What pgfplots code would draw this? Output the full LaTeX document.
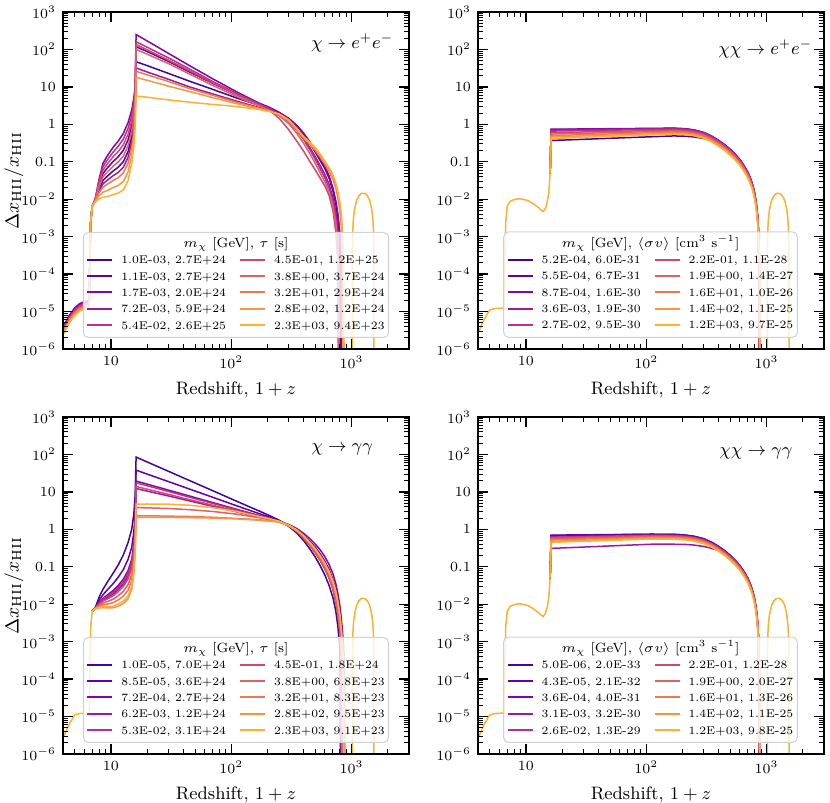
\RequirePackage{fix-cm}
\documentclass[border=0pt]{standalone}
\usepackage{pgfplots}
\usepackage{pgfplotstable}
\pgfplotsset{compat=1.18}

\definecolor{c1}{HTML}{41049D}
\definecolor{c2}{HTML}{6401A6}
\definecolor{c3}{HTML}{8205A7}
\definecolor{c4}{HTML}{9E199C}
\definecolor{c5}{HTML}{B8318A}
\definecolor{c6}{HTML}{CD4877}
\definecolor{c7}{HTML}{DE6165}
\definecolor{c8}{HTML}{EC7853}
\definecolor{c9}{HTML}{F89540}
\definecolor{c10}{HTML}{FDB031}

% ---------- top-left: chi -> e+e-
\pgfplotstableread{
x c1 c2 c3 c4 c5 c6 c7 c8 c9 c10
4.0 3.6e-6 3.6e-6 3.8e-6 3.3e-6 3.3e-6 3.0e-6 2.9e-6 2.75e-6 2.55e-6 2.4e-6
4.5 7.5e-6 7.5e-6 7.8e-6 6.9e-6 6.9e-6 6.3e-6 6.0e-6 5.7e-6 5.3e-6 4.9e-6
5.0 1.19e-5 1.19e-5 1.24e-5 1.09e-5 1.09e-5 1.0e-5 9.5e-6 9.0e-6 8.4e-6 7.8e-6
5.5 1.56e-5 1.56e-5 1.63e-5 1.44e-5 1.44e-5 1.31e-5 1.25e-5 1.19e-5 1.1e-5 1.03e-5
6.0 1.75e-5 1.75e-5 1.82e-5 1.61e-5 1.61e-5 1.47e-5 1.4e-5 1.33e-5 1.23e-5 1.15e-5
6.6 1.88e-5 1.88e-5 1.95e-5 1.73e-5 1.73e-5 1.58e-5 1.5e-5 1.43e-5 1.32e-5 1.23e-5
6.7 3e-4 3e-4 3e-4 3e-4 3e-4 3e-4 3e-4 3e-4 3e-4 3e-4
6.8 2.5e-3 2.5e-3 2.5e-3 2.5e-3 2.5e-3 2.5e-3 2.5e-3 2.5e-3 2.5e-3 2.5e-3
7.0 6.5e-3 6.5e-3 6.5e-3 6.5e-3 6.5e-3 6.5e-3 6.5e-3 6.5e-3 6.5e-3 6.5e-3
7.4 0.0091 0.0095 0.0100 0.0090 0.0098 0.0096 0.0093 0.0088 0.0086 0.0083
8.0 0.0193 0.0246 0.0355 0.0171 0.0314 0.0278 0.0218 0.0151 0.0126 0.0105
8.6 0.0320 0.0486 0.0912 0.0259 0.0740 0.0600 0.0394 0.0210 0.0153 0.0112
9.3 0.0407 0.0670 0.141 0.0318 0.110 0.0859 0.0522 0.0248 0.0171 0.0117
10.4 0.0562 0.1005 0.240 0.0421 0.179 0.134 0.0752 0.0315 0.0204 0.0132
11.5 0.0716 0.136 0.355 0.0520 0.258 0.187 0.0986 0.0378 0.0233 0.0145
12.7 0.101 0.203 0.575 0.0714 0.406 0.287 0.143 0.0505 0.0299 0.0178
13.9 0.188 0.385 1.12 0.132 0.785 0.550 0.269 0.0923 0.0540 0.0316
14.9 0.468 0.90 2.40 0.337 1.73 1.25 0.649 0.243 0.149 0.0912
15.5 1.12 2.04 5.01 0.832 3.72 2.75 1.51 0.617 0.394 0.251
15.9 2.82 4.68 10.0 2.19 7.76 6.03 3.63 1.70 1.16 0.794
16.2 47 118 250 32 160 135 100 26 18 5.7
20 37 88 169 25 115 98 75 21 15 5.3
30 23 48 79 16 60 52 42 14 10.5 4.5
45 14.2 25 37 10 30 27 22 9 7.5 3.9
70 8.6 12.5 16.5 6.5 14 13 11 6 5.2 3.4
110 5.1 6.3 7.5 4.2 6.8 6.3 5.6 3.9 3.6 3.0
170 3.2 3.4 3.7 2.8 3.5 3.3 3.1 2.7 2.6 2.5
210 2.55 2.65 2.8 2.3 2.6 2.3 2.3 2.2 2.2 2.2
250 2.0 2.05 2.1 1.85 1.9 1.45 1.7 1.8 1.85 1.9
300 1.36 1.4 1.45 1.2 1.2 0.72 1.05 1.22 1.28 1.33
350 0.87 0.9 0.95 0.72 0.7 0.36 0.58 0.72 0.76 0.79
400 0.53 0.55 0.58 0.42 0.39 0.19 0.31 0.42 0.45 0.47
450 0.31 0.32 0.34 0.24 0.21 0.102 0.165 0.29 0.31 0.33
500 0.18 0.19 0.2 0.135 0.115 0.06 0.09 0.2 0.22 0.24
550 0.107 0.113 0.12 0.078 0.064 0.036 0.05 0.13 0.145 0.16
600 0.066 0.07 0.075 0.046 0.037 0.0225 0.029 0.085 0.095 0.105
650 0.037 0.039 0.042 0.025 0.02 0.0126 0.016 0.055 0.062 0.07
700 0.017 0.018 0.02 0.011 0.0085 0.005 0.0068 0.034 0.039 0.045
740 0.0075 0.008 0.009 0.0045 0.003 0.00135 0.0024 0.02 0.023 0.027
770 0.0032 0.0035 0.004 0.0015 8e-4 2e-4 6e-4 0.011 0.0135 0.016
800 8e-4 0.001 0.0012 1e-12 1e-12 1e-12 1e-12 0.005 0.0065 0.008
820 1e-12 1.5e-4 2e-4 1e-12 1e-12 1e-12 1e-12 0.0022 0.0032 0.0042
840 1e-12 1e-12 1e-12 1e-12 1e-12 1e-12 1e-12 5e-4 0.001 0.0015
860 1e-12 1e-12 1e-12 1e-12 1e-12 1e-12 1e-12 1e-12 1e-12 2e-4
880 1e-12 1e-12 1e-12 1e-12 1e-12 1e-12 1e-12 1e-12 1e-12 1e-12
}\tA

% ---------- right panels: common part before the jump
\pgfplotstableread{
x y
4.0 2.6e-6
4.5 6.2e-6
5.0 1.1e-5
5.5 1.2e-5
6.0 1.22e-5
6.6 1.25e-5
6.7 3e-4
6.8 2.5e-3
7.0 6.5e-3
7.4 8.8e-3
8.0 9.8e-3
8.6 0.0102
9.3 0.0101
10.4 9.2e-3
11.5 7.6e-3
12.7 6.0e-3
13.3 5.2e-3
13.9 4.7e-3
14.5 5.6e-3
15.0 8.0e-3
15.5 0.015
15.9 0.05
}\tRpre

% ---------- bottom-left: common part before 7
\pgfplotstableread{
x y
4.0 2.7e-6
4.5 6.2e-6
5.0 1.1e-5
5.5 1.2e-5
6.0 1.22e-5
6.6 1.25e-5
6.7 3e-4
6.8 2.5e-3
7.0 6.5e-3
}\tLpre

% ---------- recombination bump (all panels)
\pgfplotstableread{
x y
1012 1e-12
1014 1.45e-4
1017 5.7e-4
1023 1.42e-3
1034 2.76e-3
1056 5.2e-3
1101 9.3e-3
1148 0.0122
1196 0.0139
1247 0.0145
1301 0.0139
1356 0.0122
1414 9.3e-3
1474 5.2e-3
1505 2.76e-3
1521 1.42e-3
1530 5.7e-4
1535 1.45e-4
1538 1e-12
}\tBump

% ---------- top-right: chi chi -> e+e-
\pgfplotstableread{
x c1 c2 c3 c4 c5 c6 c7 c8 c9 c10
15.9 0.05 0.05 0.05 0.05 0.05 0.05 0.05 0.05 0.05 0.05
16.2 0.37 0.72 0.74 0.70 0.66 0.60 0.55 0.50 0.46 0.42
20 0.379 0.725 0.744 0.706 0.667 0.608 0.559 0.510 0.470 0.430
30 0.398 0.735 0.753 0.717 0.680 0.625 0.577 0.529 0.489 0.451
45 0.418 0.745 0.762 0.729 0.694 0.642 0.595 0.549 0.509 0.472
70 0.441 0.757 0.771 0.742 0.709 0.660 0.616 0.572 0.531 0.497
110 0.465 0.768 0.780 0.755 0.725 0.680 0.638 0.596 0.556 0.523
170 0.49 0.78 0.79 0.77 0.74 0.70 0.66 0.62 0.58 0.55
210 0.48 0.757 0.766 0.747 0.718 0.679 0.640 0.601 0.563 0.534
250 0.46 0.702 0.711 0.693 0.666 0.63 0.594 0.558 0.522 0.495
300 0.42 0.601 0.608 0.593 0.57 0.539 0.508 0.477 0.447 0.424
350 0.36 0.48 0.486 0.474 0.455 0.4305 0.406 0.381 0.357 0.338
400 0.295 0.367 0.371 0.362 0.348 0.329 0.31 0.291 0.273 0.2585
450 0.235 0.281 0.284 0.277 0.266 0.252 0.238 0.223 0.209 0.198
500 0.183 0.211 0.213 0.208 0.2 0.189 0.178 0.167 0.157 0.1485
550 0.14 0.156 0.158 0.154 0.148 0.14 0.132 0.124 0.116 0.11
600 0.103 0.113 0.115 0.112 0.107 0.1015 0.0957 0.0899 0.0841 0.0798
650 0.072 0.078 0.079 0.077 0.074 0.07 0.066 0.062 0.058 0.055
700 0.048 0.0515 0.0521 0.0508 0.0488 0.0462 0.0436 0.0409 0.0383 0.0363
740 0.031 0.0335 0.034 0.0331 0.0318 0.0301 0.0284 0.0267 0.0249 0.0237
770 0.021 0.0226 0.0229 0.0223 0.0215 0.0203 0.0191 0.018 0.0168 0.016
800 0.0123 0.0133 0.0134 0.0131 0.0126 0.0119 0.0112 0.0105 0.0099 0.0094
820 0.0073 0.0078 0.0079 0.0077 0.0074 0.007 0.0066 0.0062 0.0058 0.0055
840 0.0036 0.0039 0.004 0.0039 0.0037 0.0035 0.0033 0.0031 0.0029 0.00275
860 0.0011 0.00117 0.00119 0.00116 0.00111 0.00105 9.9e-4 9.3e-4 8.7e-4 8.3e-4
875 1e-12 1e-12 1e-12 1e-12 1e-12 1.75e-4 1.65e-4 1.55e-4 1.45e-4 1.4e-4
885 1e-12 1e-12 1e-12 1e-12 1e-12 1e-12 1e-12 1e-12 1e-12 1e-12
}\tB

% ---------- bottom-left: chi -> gamma gamma
\pgfplotstableread{
x c1 c2 c3 c4 c5 c6 c7 c8 c9 c10
7.0 6.5e-3 6.5e-3 6.5e-3 6.5e-3 6.5e-3 6.5e-3 6.5e-3 6.5e-3 6.5e-3 6.5e-3
7.4 0.0079 0.0078 0.0078 0.0077 0.0078 0.0077 0.0077 0.0076 0.0076 0.0076
8.0 0.0158 0.0129 0.0112 0.0105 0.0108 0.0101 0.00944 0.00881 0.00794 0.00822
8.6 0.0251 0.0179 0.0143 0.0128 0.0135 0.0121 0.0108 0.00962 0.00813 0.00859
9.3 0.038 0.0238 0.0174 0.0149 0.0161 0.0137 0.0117 0.01005 0.00794 0.00859
10.4 0.0661 0.035 0.0229 0.0185 0.0206 0.0167 0.0135 0.0109 0.00794 0.00883
11.5 0.112 0.0525 0.0316 0.0245 0.0279 0.0216 0.0168 0.0130 0.00891 0.0101
12.7 0.209 0.0851 0.0468 0.0347 0.0403 0.0299 0.0221 0.0164 0.0105 0.0122
13.9 0.447 0.158 0.0794 0.0562 0.0668 0.0473 0.0335 0.0237 0.0141 0.0168
14.9 1.0 0.331 0.158 0.110 0.132 0.0912 0.0631 0.0437 0.0251 0.0302
15.5 2.51 0.832 0.398 0.275 0.331 0.229 0.158 0.110 0.0631 0.0759
15.9 7.94 2.63 1.26 0.871 1.05 0.724 0.501 0.347 0.200 0.240
16.2 85 38 19.5 12.3 17.5 14 3.8 2.3 2.1 4.7
20 63 29.9 16.1 10.5 14.6 11.8 3.75 2.3 2.1 4.75
30 35.6 18.9 11.2 7.8 10.3 8.6 3.6 2.25 2.08 4.7
45 20.1 11.9 7.76 5.74 7.24 6.2 3.35 2.2 2.05 4.4
70 10.8 7.2 5.2 4.13 4.94 4.4 3.0 2.1 2.0 3.8
110 5.7 4.3 3.46 2.95 3.35 3.07 2.55 1.95 1.9 3.0
170 3.1 2.63 2.33 2.13 2.3 2.17 2.05 1.8 1.75 2.2
210 2.3 2.1 1.96 1.85 1.95 1.87 1.82 1.7 1.65 1.9
250 1.75 1.7 1.65 1.6 1.62 1.6 1.6 1.6 1.55 1.65
300 1.2 1.3 1.35 1.25 1.25 1.24 1.25 1.28 1.26 1.3
350 0.8 0.97 1.05 0.9 0.9 0.88 0.9 0.95 0.93 0.97
400 0.5 0.7 0.78 0.6 0.6 0.58 0.61 0.66 0.65 0.68
450 0.3 0.48 0.56 0.38 0.38 0.37 0.39 0.44 0.43 0.45
500 0.18 0.33 0.4 0.24 0.24 0.23 0.245 0.29 0.285 0.3
550 0.105 0.22 0.28 0.15 0.15 0.145 0.155 0.19 0.185 0.195
600 0.06 0.14 0.185 0.09 0.09 0.087 0.094 0.12 0.117 0.124
650 0.032 0.085 0.115 0.052 0.052 0.05 0.055 0.072 0.07 0.075
700 0.015 0.046 0.065 0.026 0.026 0.025 0.028 0.04 0.039 0.042
740 0.0065 0.024 0.035 0.012 0.012 0.0115 0.013 0.021 0.02 0.022
770 0.0025 0.012 0.019 0.0055 0.0055 0.005 0.006 0.011 0.0105 0.0115
800 6e-4 0.005 0.009 0.002 0.002 0.0018 0.0022 0.0048 0.0046 0.005
820 1e-12 0.0022 0.0045 6e-4 6e-4 5e-4 7e-4 0.0022 0.0021 0.0023
840 1e-12 8e-4 0.002 1e-12 1e-12 1e-12 1e-12 8e-4 7.5e-4 8.5e-4
860 1e-12 1e-4 6e-4 1e-12 1e-12 1e-12 1e-12 1.5e-4 1.3e-4 1.6e-4
875 1e-12 1e-12 1e-4 1e-12 1e-12 1e-12 1e-12 1e-12 1e-12 1e-12
885 1e-12 1e-12 1e-12 1e-12 1e-12 1e-12 1e-12 1e-12 1e-12 1e-12
}\tC

% ---------- bottom-right: chi chi -> gamma gamma
\pgfplotstableread{
x c1 c2 c3 c4 c5 c6 c7 c8 c9 c10
15.9 0.05 0.05 0.05 0.05 0.05 0.05 0.05 0.05 0.05 0.05
16.2 0.68 0.70 0.64 0.31 0.62 0.60 0.56 0.52 0.48 0.45
20 0.686 0.704 0.646 0.319 0.627 0.607 0.568 0.529 0.49 0.46
30 0.699 0.713 0.659 0.336 0.642 0.622 0.585 0.547 0.51 0.48
45 0.711 0.721 0.671 0.355 0.656 0.636 0.601 0.566 0.531 0.501
70 0.725 0.730 0.685 0.377 0.673 0.653 0.620 0.587 0.555 0.525
110 0.74 0.74 0.70 0.40 0.69 0.67 0.64 0.61 0.58 0.55
170 0.733 0.733 0.693 0.40 0.683 0.663 0.634 0.604 0.574 0.5445
210 0.703 0.703 0.665 0.395 0.656 0.637 0.608 0.58 0.551 0.5225
250 0.651 0.651 0.616 0.38 0.607 0.59 0.563 0.537 0.51 0.484
300 0.562 0.562 0.532 0.35 0.524 0.509 0.486 0.464 0.441 0.418
350 0.451 0.451 0.427 0.31 0.421 0.409 0.39 0.372 0.354 0.3355
400 0.348 0.348 0.329 0.27 0.324 0.315 0.301 0.287 0.273 0.2585
450 0.266 0.266 0.252 0.225 0.248 0.241 0.23 0.22 0.209 0.198
500 0.2 0.2 0.189 0.18 0.186 0.181 0.173 0.165 0.157 0.1485
550 0.148 0.148 0.14 0.138 0.138 0.134 0.128 0.122 0.116 0.11
600 0.107 0.107 0.1015 0.101 0.1 0.0972 0.0928 0.0885 0.0841 0.0798
650 0.074 0.074 0.07 0.07 0.069 0.067 0.064 0.061 0.058 0.055
700 0.0488 0.0488 0.0462 0.046 0.0455 0.0442 0.0422 0.0403 0.0383 0.0363
740 0.0318 0.0318 0.0301 0.03 0.0297 0.0288 0.0275 0.0262 0.0249 0.0237
770 0.0215 0.0215 0.0203 0.02 0.02 0.0194 0.0186 0.0177 0.0168 0.016
800 0.0126 0.0126 0.0119 0.0117 0.0117 0.0114 0.0109 0.0104 0.0099 0.0094
820 0.0074 0.0074 0.007 0.0069 0.0069 0.0067 0.0064 0.0061 0.0058 0.0055
840 0.0037 0.0037 0.0035 0.0034 0.00345 0.00335 0.0032 0.00305 0.0029 0.00275
860 0.0011 0.0011 0.00105 0.001 0.001 0.001 9.6e-4 9.2e-4 8.7e-4 8.3e-4
875 1e-12 1e-12 1e-12 1e-12 1e-12 1.7e-4 1.6e-4 1.5e-4 1.5e-4 1.4e-4
885 1e-12 1e-12 1e-12 1e-12 1e-12 1e-12 1e-12 1e-12 1e-12 1e-12
}\tD

\pgfplotsset{
  every axis/.append style={
    scale only axis, width=173pt, height=168.5pt,
    xmin=4, xmax=3000, ymin=1e-6, ymax=1e3,
    axis on top,
    axis line style={line width=0.9pt},
    tick align=inside, xtick pos=both, ytick pos=both,
    major tick length=5pt, minor tick length=2.3pt,
    major tick style={line width=0.7pt, black},
    minor tick style={line width=0.45pt, black},
    xtick={10,100,1000},
    xticklabels={$10$,$10^{2}$,$10^{3}$},
    minor xtick={5,6,7,8,9,20,30,40,50,60,70,80,90,200,300,400,500,600,700,800,900,2000,3000},
    ytick={1e-6,1e-5,1e-4,1e-3,1e-2,1e-1,1,10,100,1000},
    yticklabels={$10^{-6}$,$10^{-5}$,$10^{-4}$,$10^{-3}$,$10^{-2}$,$0.1$,$1$,$10$,$10^{2}$,$10^{3}$},
    minor ytick={2e-6,3e-6,4e-6,5e-6,6e-6,7e-6,8e-6,9e-6,
                 2e-5,3e-5,4e-5,5e-5,6e-5,7e-5,8e-5,9e-5,
                 2e-4,3e-4,4e-4,5e-4,6e-4,7e-4,8e-4,9e-4,
                 2e-3,3e-3,4e-3,5e-3,6e-3,7e-3,8e-3,9e-3,
                 0.02,0.03,0.04,0.05,0.06,0.07,0.08,0.09,
                 0.2,0.3,0.4,0.5,0.6,0.7,0.8,0.9,
                 2,3,4,5,6,7,8,9,20,30,40,50,60,70,80,90,
                 200,300,400,500,600,700,800,900},
    tick label style={font=\fontsize{7}{8}\selectfont},
    xlabel={Redshift, $1+z$},
    xlabel style={font=\fontsize{9}{10}\selectfont},
    every axis y label/.style={at={(axis description cs:-0.142,0.5)},
        rotate=90, anchor=center, font=\fontsize{9.5}{11}\selectfont},
  },
}

\newcommand{\ls}[1]{\textcolor{#1}{\rule[1.5pt]{12.5pt}{1pt}}}
\newcommand{\legbox}[3]{%
  \node[anchor=south, fill=white, fill opacity=0.8, text opacity=1,
        draw=black!18, line width=0.5pt, rounded corners=2.5pt,
        inner xsep=2pt, inner ysep=1.8pt,
        font=\fontsize{5.6}{8.15}\selectfont] at (#1) {%
    \begin{tabular}{@{}l@{\hspace{4.5pt}}l@{\hspace{7pt}}l@{\hspace{4.5pt}}l@{}}
      \multicolumn{4}{c}{\fontsize{6.7}{8}\selectfont #2}\\
      #3
    \end{tabular}};}

\begin{document}
\begin{tikzpicture}
\useasboundingbox (0,0) rectangle (415pt,401.5pt);

% ===== top-left
\begin{loglogaxis}[at={(31.5pt,227pt)}, anchor=south west,
  ylabel={$\Delta x_{\mathrm{HII}}/x_{\mathrm{HII}}$}]
\pgfplotsinvokeforeach{1,2,3,4,5,6,7,8,9,10}{
  \addplot[c#1, line width=0.75pt] table[x=x, y=c#1] {\tA};
}
\addplot[c10, line width=0.75pt] table[x=x, y=y] {\tBump};
\end{loglogaxis}

% ===== top-right
\begin{loglogaxis}[at={(239pt,227pt)}, anchor=south west]
\addplot[c10, line width=0.75pt] table[x=x, y=y] {\tRpre};
\pgfplotsinvokeforeach{1,2,3,4,5,6,7,8,9,10}{
  \addplot[c#1, line width=0.75pt] table[x=x, y=c#1] {\tB};
}
\addplot[c10, line width=0.75pt] table[x=x, y=y] {\tBump};
\end{loglogaxis}

% ===== bottom-left
\begin{loglogaxis}[at={(31.5pt,24.5pt)}, anchor=south west,
  ylabel={$\Delta x_{\mathrm{HII}}/x_{\mathrm{HII}}$}]
\addplot[c10, line width=0.75pt] table[x=x, y=y] {\tLpre};
\pgfplotsinvokeforeach{1,2,3,4,5,6,7,8,9,10}{
  \addplot[c#1, line width=0.75pt] table[x=x, y=c#1] {\tC};
}
\addplot[c10, line width=0.75pt] table[x=x, y=y] {\tBump};
\end{loglogaxis}

% ===== bottom-right
\begin{loglogaxis}[at={(239pt,24.5pt)}, anchor=south west]
\addplot[c10, line width=0.75pt] table[x=x, y=y] {\tRpre};
\pgfplotsinvokeforeach{1,2,3,4,5,6,7,8,9,10}{
  \addplot[c#1, line width=0.75pt] table[x=x, y=c#1] {\tD};
}
\addplot[c10, line width=0.75pt] table[x=x, y=y] {\tBump};
\end{loglogaxis}

% ===== process labels
\node[anchor=west, inner sep=0pt, font=\fontsize{9}{10}\selectfont] at (155.3pt,380pt) {$\chi \rightarrow e^{+}e^{-}$};
\node[anchor=west, inner sep=0pt, font=\fontsize{9}{10}\selectfont] at (359pt,377pt) {$\chi\chi \rightarrow e^{+}e^{-}$};
\node[anchor=west, inner sep=0pt, font=\fontsize{9}{10}\selectfont] at (155.5pt,177pt) {$\chi \rightarrow \gamma\gamma$};
\node[anchor=west, inner sep=0pt, font=\fontsize{9}{10}\selectfont] at (359.5pt,175pt) {$\chi\chi \rightarrow \gamma\gamma$};

% ===== legends
\legbox{118pt,232.5pt}{$m_\chi$ [GeV],\ $\tau$ [s]}{%
  \ls{c1} & 1.0E-03, 2.7E+24 & \ls{c6} & 4.5E-01, 1.2E+25\\
  \ls{c2} & 1.1E-03, 2.7E+24 & \ls{c7} & 3.8E+00, 3.7E+24\\
  \ls{c3} & 1.7E-03, 2.0E+24 & \ls{c8} & 3.2E+01, 2.9E+24\\
  \ls{c4} & 7.2E-03, 5.9E+24 & \ls{c9} & 2.8E+02, 1.2E+24\\
  \ls{c5} & 5.4E-02, 2.6E+25 & \ls{c10} & 2.3E+03, 9.4E+23\\}
\legbox{325.25pt,232.6pt}{$m_\chi$ [GeV],\ $\langle\sigma v\rangle$ [cm$^{3}$ s$^{-1}$]}{%
  \ls{c1} & 5.2E-04, 6.0E-31 & \ls{c6} & 2.2E-01, 1.1E-28\\
  \ls{c2} & 5.5E-04, 6.7E-31 & \ls{c7} & 1.9E+00, 1.4E-27\\
  \ls{c3} & 8.7E-04, 1.6E-30 & \ls{c8} & 1.6E+01, 1.0E-26\\
  \ls{c4} & 3.6E-03, 1.9E-30 & \ls{c9} & 1.4E+02, 1.1E-25\\
  \ls{c5} & 2.7E-02, 9.5E-30 & \ls{c10} & 1.2E+03, 9.7E-25\\}
\legbox{118pt,30pt}{$m_\chi$ [GeV],\ $\tau$ [s]}{%
  \ls{c1} & 1.0E-05, 7.0E+24 & \ls{c6} & 4.5E-01, 1.8E+24\\
  \ls{c2} & 8.5E-05, 3.6E+24 & \ls{c7} & 3.8E+00, 6.8E+23\\
  \ls{c3} & 7.2E-04, 2.7E+24 & \ls{c8} & 3.2E+01, 8.3E+23\\
  \ls{c4} & 6.2E-03, 1.2E+24 & \ls{c9} & 2.8E+02, 9.5E+23\\
  \ls{c5} & 5.3E-02, 3.1E+24 & \ls{c10} & 2.3E+03, 9.1E+23\\}
\legbox{325.25pt,30pt}{$m_\chi$ [GeV],\ $\langle\sigma v\rangle$ [cm$^{3}$ s$^{-1}$]}{%
  \ls{c1} & 5.0E-06, 2.0E-33 & \ls{c6} & 2.2E-01, 1.2E-28\\
  \ls{c2} & 4.3E-05, 2.1E-32 & \ls{c7} & 1.9E+00, 2.0E-27\\
  \ls{c3} & 3.6E-04, 4.0E-31 & \ls{c8} & 1.6E+01, 1.3E-26\\
  \ls{c4} & 3.1E-03, 3.2E-30 & \ls{c9} & 1.4E+02, 1.1E-25\\
  \ls{c5} & 2.6E-02, 1.3E-29 & \ls{c10} & 1.2E+03, 9.8E-25\\}
\end{tikzpicture}
\end{document}
